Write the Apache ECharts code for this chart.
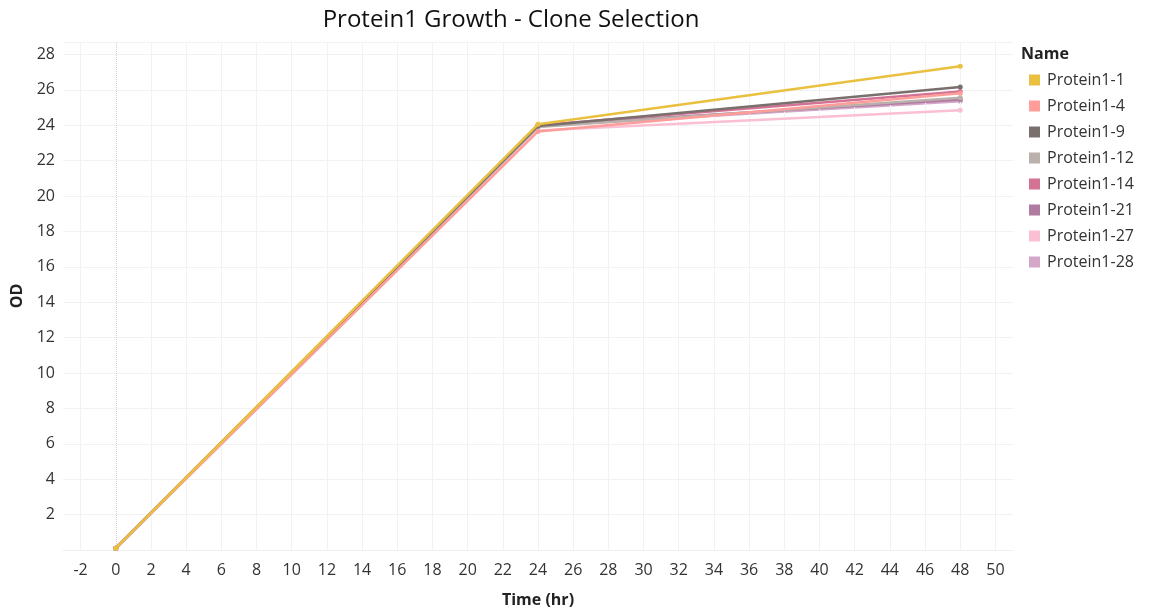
<!DOCTYPE html>
<html>
<head>
<meta charset="utf-8">
<script src="https://cdn.jsdelivr.net/npm/echarts@6/dist/echarts.min.js"></script>
<style>
  html, body { margin: 0; padding: 0; background: #fff; }
  #chart { width: 1158px; height: 614px; }
</style>
</head>
<body>
<div id="chart"></div>
<script>
// Sampling times (hours)
const times = [0, 24, 48];

// Clone names, in legend order
const clones = ['Protein1-1', 'Protein1-4', 'Protein1-9', 'Protein1-12',
                'Protein1-14', 'Protein1-21', 'Protein1-27', 'Protein1-28'];

// OD readings per clone at each sampling time
const od1  = [0.1, 24.05, 27.33];
const od4  = [0.1, 23.65, 25.80];
const od9  = [0.1, 23.95, 26.16];
const od12 = [0.1, 23.90, 25.55];
const od14 = [0.1, 24.00, 25.90];
const od21 = [0.1, 24.00, 25.45];
const od27 = [0.1, 23.70, 24.85];
const od28 = [0.1, 23.95, 25.35];

const odValues = [od1, od4, od9, od12, od14, od21, od27, od28];

// Tick positions on the time axis
const xTicks = [-2, 0, 2, 4, 6, 8, 10, 12, 14, 16, 18, 20, 22, 24, 26,
                28, 30, 32, 34, 36, 38, 40, 42, 44, 46, 48, 50];

const palette = ['#E9C03F', '#FF9D9A', '#79706E', '#BAB0AC',
                 '#D37295', '#B07AA1', '#FABFD2', '#D4A6C8'];

const FONT = '"Open Sans", "Noto Sans", sans-serif';

const chart = echarts.init(document.getElementById('chart'));

const series = clones.map((name, i) => ({
  name: name,
  type: 'line',
  data: times.map((t, k) => [t, odValues[i][k]]),
  symbol: 'circle',
  symbolSize: 5,
  showSymbol: true,
  lineStyle: { width: 2.5, color: palette[i] },
  itemStyle: { color: palette[i] },
  z: 3 + (clones.length - i),
  emphasis: { disabled: true }
}));

// vertical grid lines at each time tick, dotted line at time zero
series.push({
  name: 'grid',
  type: 'line',
  data: [],
  silent: true,
  z: 1,
  markLine: {
    silent: true,
    symbol: 'none',
    label: { show: false },
    animation: false,
    lineStyle: { color: '#f2f2f2', type: 'solid', width: 1 },
    data: xTicks.map(v => v === 0
      ? { xAxis: v, lineStyle: { color: '#d0d0d0', type: 'dotted', width: 1 } }
      : { xAxis: v })
  }
});

chart.setOption({
  animation: false,
  backgroundColor: '#ffffff',
  color: palette,
  title: {
    text: 'Protein1 Growth - Clone Selection',
    left: 506,
    textAlign: 'center',
    top: 3,
    textStyle: { fontFamily: FONT, fontSize: 24, fontWeight: 'normal', color: '#111' }
  },
  grid: { left: 63, right: 145, top: 42, bottom: 64 },
  legend: {
    orient: 'vertical',
    left: 1024,
    top: 67,
    icon: 'rect',
    itemWidth: 11,
    itemHeight: 11,
    itemGap: 10,
    textStyle: { fontFamily: FONT, fontSize: 16, color: '#333', padding: [0, 0, 0, 2] },
    data: clones
  },
  graphic: [{
    type: 'text',
    left: 1021,
    top: 46,
    style: { text: 'Name', font: 'bold 16px "Open Sans", "Noto Sans", sans-serif', fill: '#222' }
  }],
  xAxis: {
    type: 'value',
    min: -3,
    max: 51,
    name: 'Time (hr)',
    nameLocation: 'middle',
    nameGap: 42,
    nameTextStyle: { fontFamily: FONT, fontSize: 16, fontWeight: 'bold', color: '#222' },
    axisLine: { show: true, lineStyle: { color: '#f0f0f0' } },
    axisTick: { show: false, customValues: xTicks },
    axisLabel: { fontFamily: FONT, fontSize: 16, color: '#333', margin: 12,
                 customValues: xTicks },
    splitLine: { show: false }
  },
  yAxis: {
    type: 'value',
    min: 0,
    max: 28.7,
    interval: 2,
    name: 'OD',
    nameLocation: 'middle',
    nameGap: 38,
    nameTextStyle: { fontFamily: FONT, fontSize: 16, fontWeight: 'bold', color: '#222' },
    axisLine: { show: false },
    axisTick: { show: false },
    axisLabel: { fontFamily: FONT, fontSize: 16, color: '#333', margin: 8,
                 showMinLabel: false, showMaxLabel: false },
    splitLine: { show: true, lineStyle: { color: '#f2f2f2', width: 1 } }
  },
  series: series
});
</script>
</body>
</html>
